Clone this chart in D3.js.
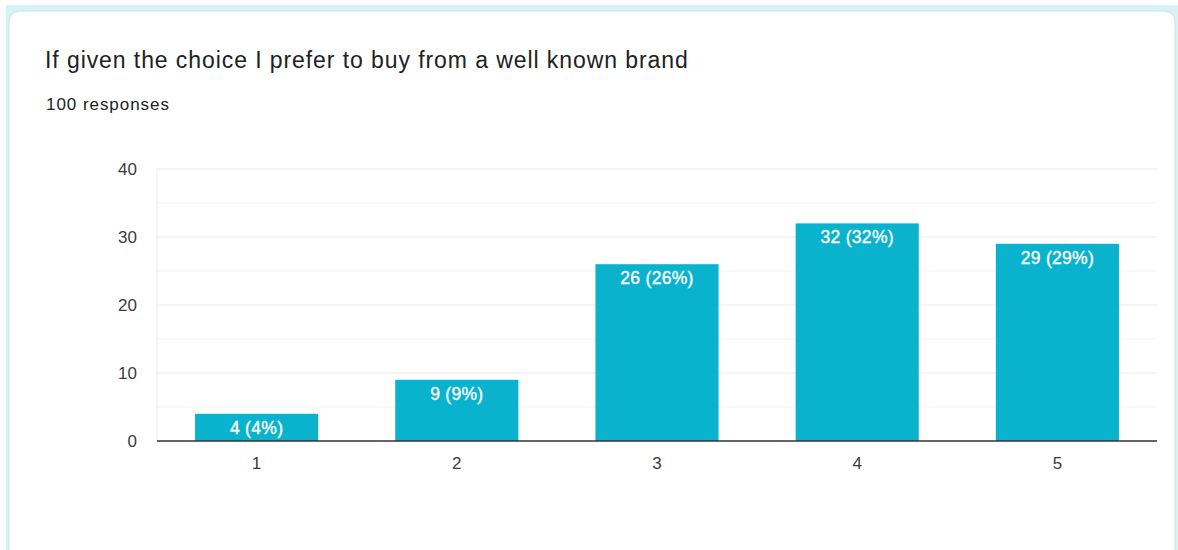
<!DOCTYPE html>
<html>
<head>
<meta charset="utf-8">
<script src="https://cdn.jsdelivr.net/npm/d3@7"></script>
<style>
  html, body { margin: 0; padding: 0; background: #ffffff; }
  svg { display: block; font-family: "Liberation Sans", Arial, Helvetica, sans-serif; }
</style>
</head>
<body>
<svg id="chart" width="1178" height="550"></svg>
<script>
// Survey answers on a 1–5 scale, with response counts
const categories = ["1", "2", "3", "4", "5"];
const counts = [4, 9, 26, 32, 29];
const totalResponses = 100;
const yTicks = [0, 10, 20, 30, 40];
const yGrid = [5, 15, 25, 35];
const title = "If given the choice I prefer to buy from a well known brand";
const subtitle = "100 responses";

const svg = d3.select("#chart");
const W = 1178, H = 550;
const FONT = '"Liberation Sans", Arial, Helvetica, sans-serif';

// Card background and frame
svg.append("rect").attr("x", 6).attr("y", 5).attr("width", W - 6).attr("height", H - 5)
  .attr("fill", "#d4f3f6");
svg.append("rect").attr("x", 9).attr("y", 11).attr("width", 1166).attr("height", 580)
  .attr("rx", 11).attr("ry", 11)
  .attr("fill", "#ffffff").attr("stroke", "#dadce0").attr("stroke-width", 1);

// Title block
svg.append("text").attr("x", 45).attr("y", 68)
  .attr("font-size", 23).attr("letter-spacing", 0.92).attr("fill", "#202124").text(title);
svg.append("text").attr("x", 46).attr("y", 110)
  .attr("font-size", 17).attr("letter-spacing", 0.95).attr("fill", "#202124").text(subtitle);

// Plot area
const plot = { left: 157, right: 1157, top: 169, bottom: 441 };

const x = d3.scaleBand().domain(categories)
  .range([plot.left, plot.right]).paddingInner(0.385).paddingOuter(0.19);
const y = d3.scaleLinear().domain([0, 40]).range([plot.bottom, plot.top]);

const g = svg.append("g");

// Minor gridlines
g.selectAll("line.minor").data(yGrid).join("line")
  .attr("class", "minor")
  .attr("x1", plot.left).attr("x2", plot.right)
  .attr("y1", d => y(d)).attr("y2", d => y(d))
  .attr("stroke", "#f3f3f3").attr("stroke-width", 1);

// Major gridlines
g.selectAll("line.major").data(yTicks.filter(d => d > 0)).join("line")
  .attr("class", "major")
  .attr("x1", plot.left).attr("x2", plot.right)
  .attr("y1", d => y(d)).attr("y2", d => y(d))
  .attr("stroke", "#ebebeb").attr("stroke-width", 1);

// Left edge of the plot area
g.append("line")
  .attr("x1", plot.left).attr("x2", plot.left)
  .attr("y1", plot.top).attr("y2", plot.bottom)
  .attr("stroke", "#ebebeb");

// Y axis labels
const yAxis = d3.axisLeft(y).tickValues(yTicks).tickSize(0).tickPadding(20);
const yAxisG = svg.append("g").attr("transform", `translate(${plot.left},0)`).call(yAxis);
yAxisG.select(".domain").remove();
yAxisG.selectAll("text").attr("font-size", 17).attr("fill", "#3c3c3c")
  .attr("font-family", FONT);

// Bars
g.selectAll("rect.bar").data(counts).join("rect")
  .attr("class", "bar")
  .attr("x", (d, i) => x(categories[i]))
  .attr("width", x.bandwidth())
  .attr("y", d => y(d))
  .attr("height", d => y(0) - y(d))
  .attr("fill", "#0ab3cd");

// Value labels inside the bars
g.selectAll("text.val").data(counts).join("text")
  .attr("class", "val")
  .attr("x", (d, i) => x(categories[i]) + x.bandwidth() / 2)
  .attr("y", d => y(d) + 20)
  .attr("text-anchor", "middle")
  .attr("font-size", 17.5).attr("letter-spacing", 0.3)
  .attr("fill", "#ffffff").attr("stroke", "#ffffff").attr("stroke-width", 0.35)
  .text(d => `${d} (${Math.round(d / totalResponses * 100)}%)`);

// Baseline
g.append("line")
  .attr("x1", plot.left).attr("x2", plot.right)
  .attr("y1", y(0)).attr("y2", y(0))
  .attr("stroke", "#333333").attr("stroke-width", 1.3);

// X axis labels
const xAxis = d3.axisBottom(x).tickSize(0).tickPadding(16);
const xAxisG = svg.append("g").attr("transform", `translate(0,${plot.bottom})`).call(xAxis);
xAxisG.select(".domain").remove();
xAxisG.selectAll("text").attr("font-size", 17).attr("fill", "#3c3c3c")
  .attr("font-family", FONT);
</script>
</body>
</html>
